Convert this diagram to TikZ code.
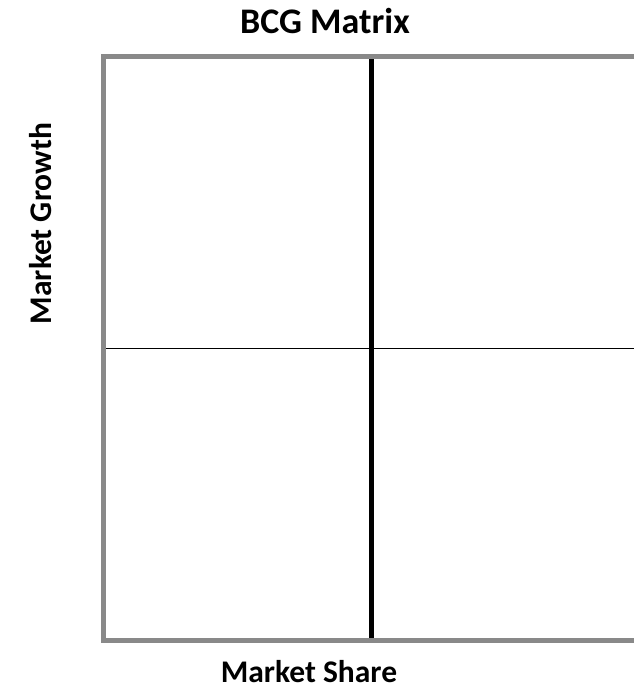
\documentclass[tikz,border=0pt]{standalone}
\usepackage{fontspec}
\setmainfont{Carlito}
\definecolor{framegray}{RGB}{137,137,137}
\begin{document}
\begin{tikzpicture}[x=1pt,y=-1pt,
  lbl/.style={font=\bfseries\fontsize{31.5}{36}\selectfont, inner sep=0pt},
  ttl/.style={font=\bfseries\fontsize{36}{42}\selectfont, inner sep=0pt},
  frameline/.style={draw=framegray, line width=5pt, line join=miter},
  divider/.style={draw=black}]
\useasboundingbox (0,0) rectangle (634,685);
\coordinate (tr) at (634,57);
\coordinate (tl) at (103.5,57);
\coordinate (bl) at (103.5,640.5);
\coordinate (br) at (634,640.5);
\coordinate (vt) at (371,57);
\coordinate (vb) at (371,640.5);
\coordinate (hl) at (103.5,348.5);
\coordinate (hr) at (634,348.5);
\draw[divider, line width=1.8pt] (hl) -- (hr);
\draw[divider, line width=5pt] (vt) -- (vb);
\draw[frameline] (tr) -- (tl) -- (bl) -- (br);
\node[ttl, anchor=base] (title) at (325,33.3) {BCG Matrix};
\node[lbl, anchor=base] (xlab) at (309,682) {Market Share};
\node[lbl, anchor=base, rotate=90] (ylab) at (51,223.5) {Market Growth};
\end{tikzpicture}
\end{document}
